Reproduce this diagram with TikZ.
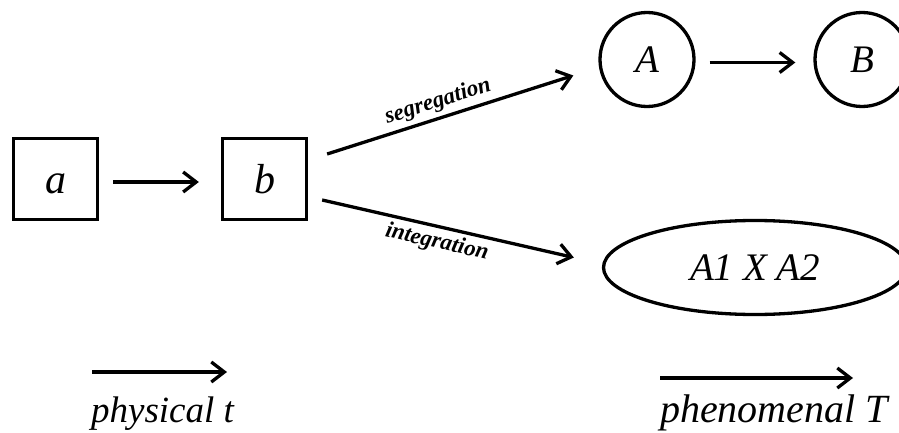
\documentclass[tikz,border=0pt]{standalone}
\usepackage{fontspec}
\setmainfont{Liberation Serif}
\usepackage{tikz}
\usetikzlibrary{arrows.meta,shapes.geometric}
\def\fsz#1{\fontsize{#1}{#1}\selectfont\itshape}

\begin{document}
\begin{tikzpicture}[x=1pt, y=1pt,
		thing/.style={draw, line width=3.3pt, inner sep=0pt},
		pbox/.style={thing, rectangle, minimum width=84pt, minimum height=81pt, font=\fsz{42}},
		pcirc/.style={thing, circle, minimum size=94pt, font=\fsz{39}},
		flow/.style={line width=3.3pt, -{Straight Barb[length=13pt, width=20pt]}},
		tag/.style={font=\fsz{23}\bfseries, inner sep=4pt}]
		%%%%% START %%%%%
		
		\useasboundingbox (0, 0) rectangle (899, 432);
		
		\node[pbox] (a) at (55.5, 253) {a\vphantom{b}};
		\node[pbox] (b) at (264.5, 253) {b};
		
		\node[pcirc] (A) at (647, 372.5) {A};
		\node[pcirc] (B) at (862, 372.5) {B};
		\node[thing, ellipse, minimum width=303pt, minimum height=94pt, font=\fsz{39}] (AxA) at (755, 164.5) {A1 X A2};
		
		\draw[flow, shorten <=14pt, shorten >=22pt] ([yshift=-3pt]a.east) -- ([yshift=-3pt]b.west);
		\draw[flow, shorten <=14pt, shorten >=18pt] ([yshift=-3pt]A.east) -- ([yshift=-3pt]B.west);
		
		\draw[flow] ([shift={(19pt, 25pt)}]b.east) -- node[tag, sloped, above, pos=0.47] {segregation} ([shift={(-25pt, -16pt)}]A.west);
		\draw[flow] ([shift={(14pt, -21pt)}]b.east) -- node[tag, sloped, below, pos=0.47] {integration} ([shift={(-28pt, 10pt)}]AxA.west);
		
		\coordinate (t0) at (92, 60);
		\coordinate (t1) at (227, 60);
		\draw[flow] (t0) -- (t1);
		\node[font=\fsz{37}, anchor=base] (tphys) at (162.5, 10) {physical t};
		
		\coordinate (T0) at (660, 54);
		\coordinate (T1) at (853, 54);
		\draw[flow] (T0) -- (T1);
		\node[font=\fsz{40}, anchor=base] (tphen) at (774, 10) {phenomenal T};
		
		%%%%% END %%%%%
	\end{tikzpicture}
\end{document}
